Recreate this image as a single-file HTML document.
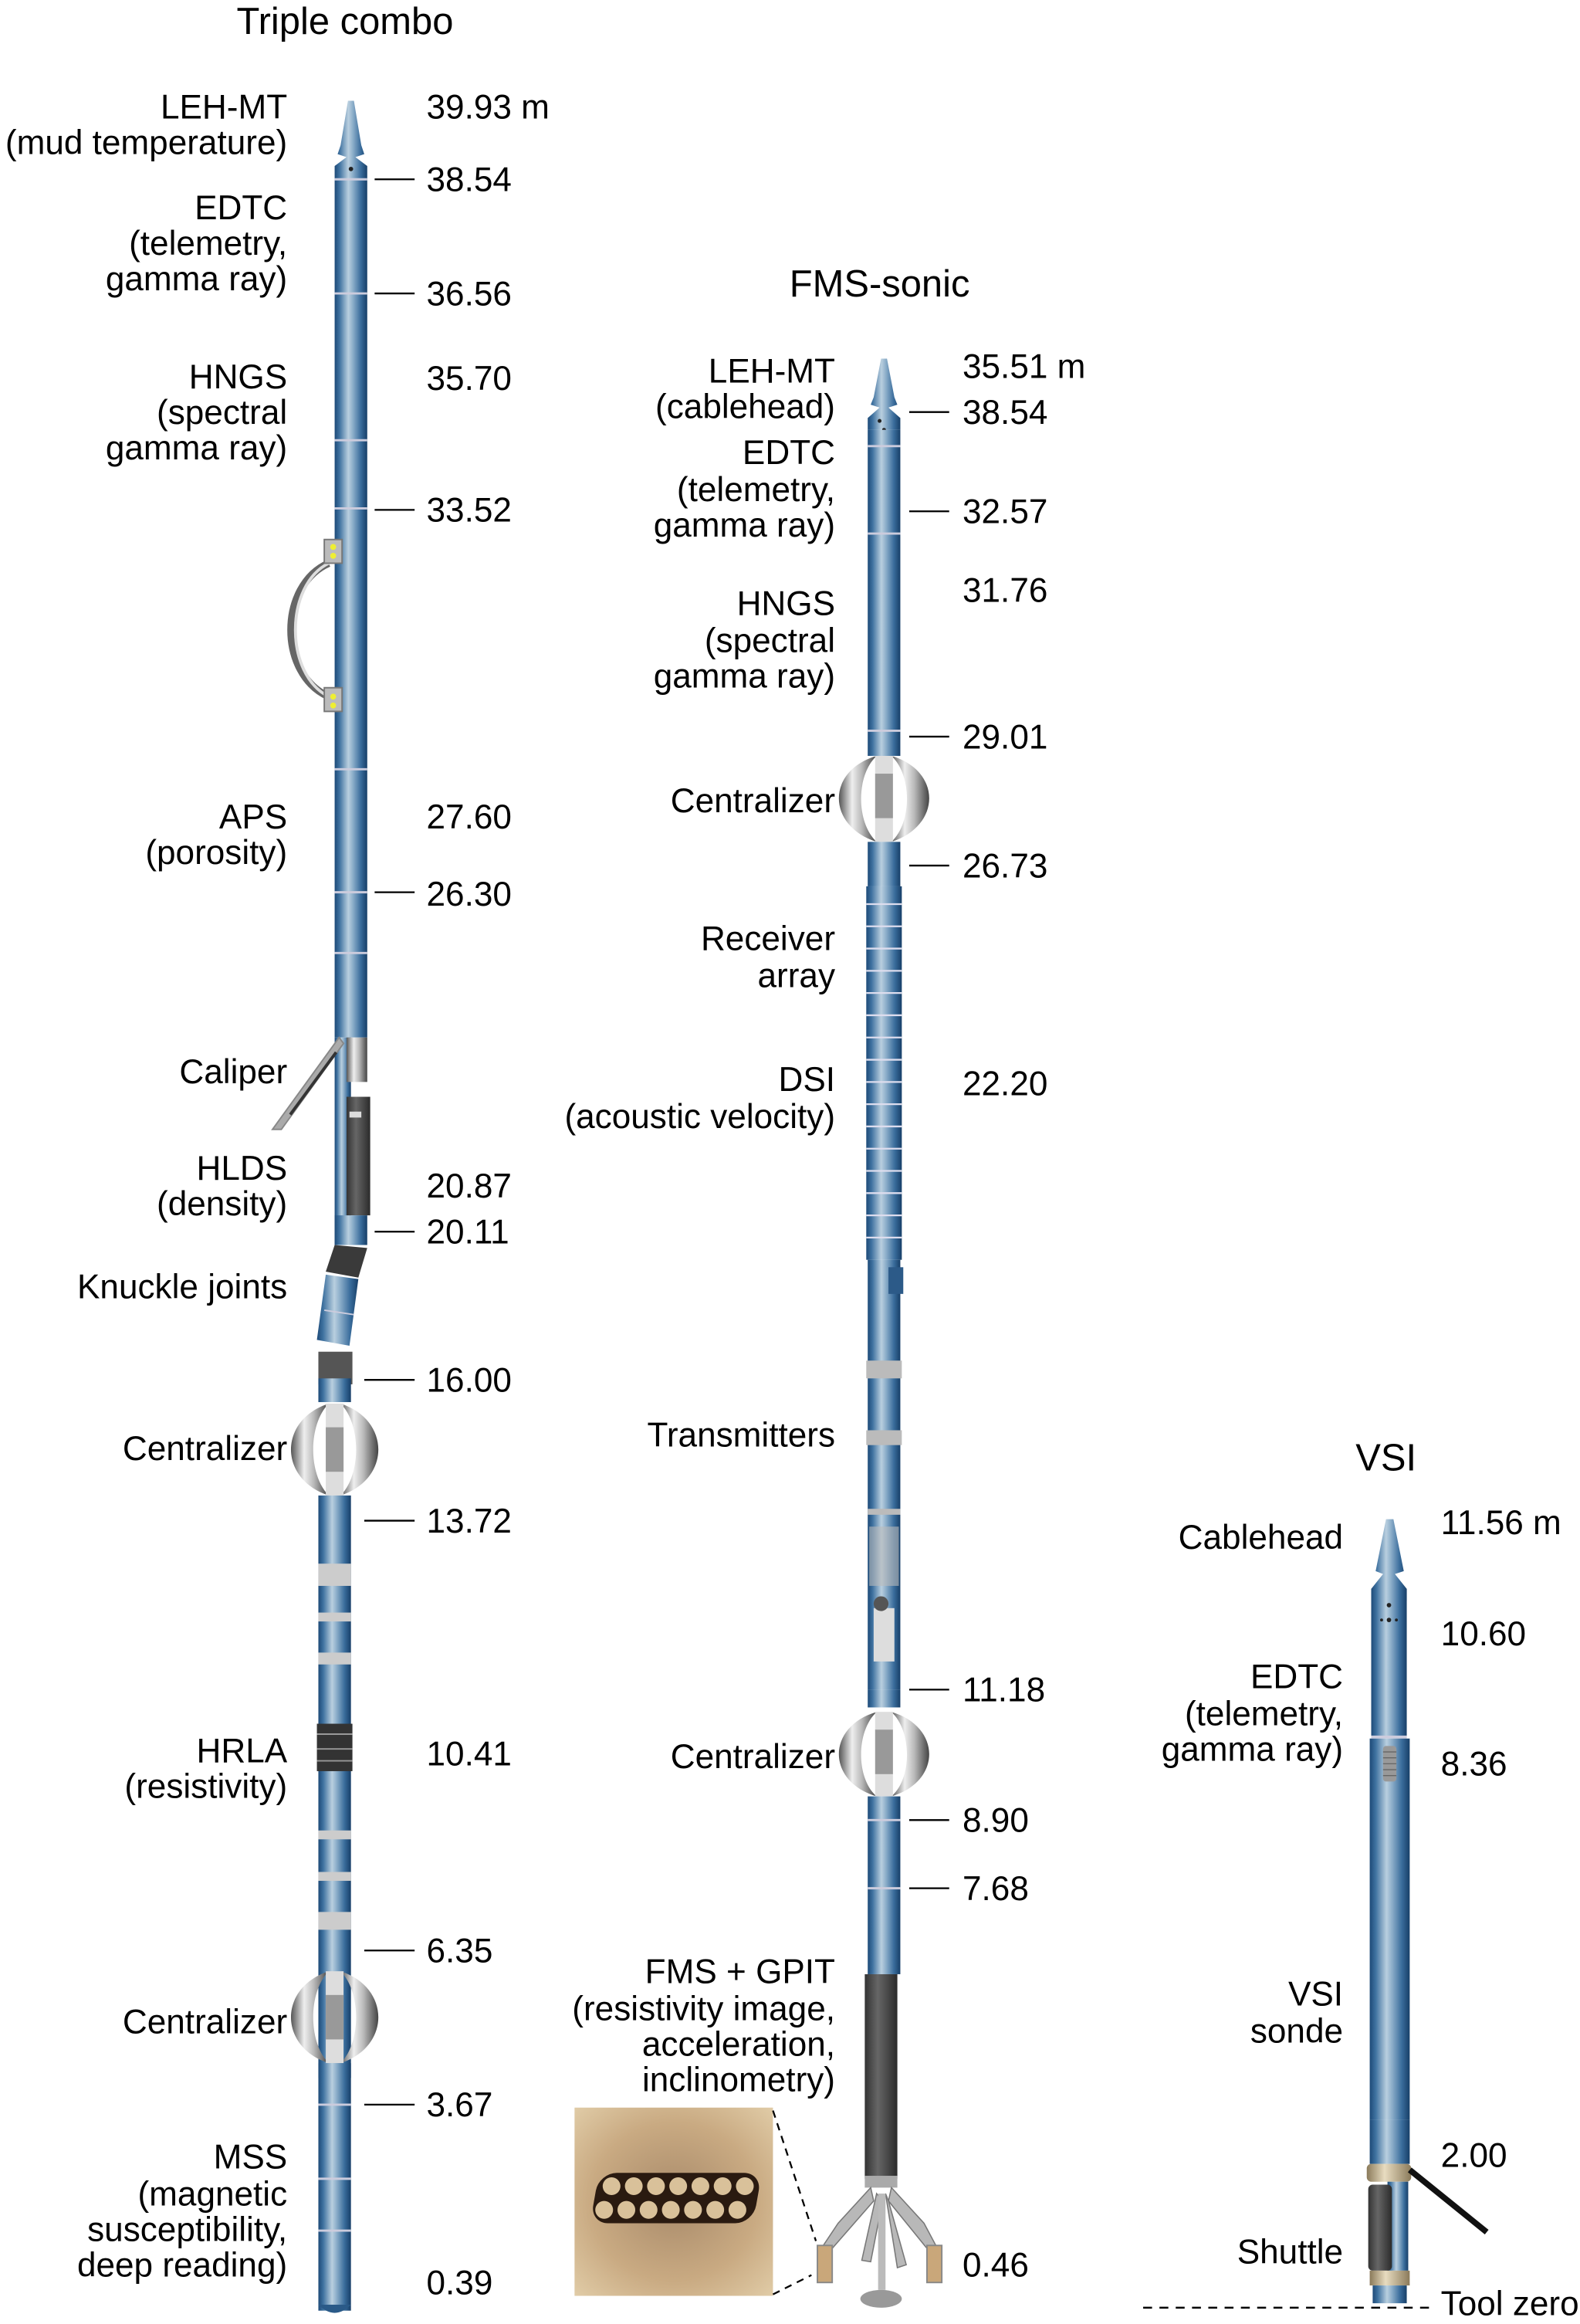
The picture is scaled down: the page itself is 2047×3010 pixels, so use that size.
<!DOCTYPE html>
<html><head><meta charset="utf-8"><style>
html,body{margin:0;padding:0;background:#fff;}
svg{display:block;}
text{font-family:"Liberation Sans",Arial,sans-serif;font-size:23px;fill:#000;}
.r{text-anchor:end;}
</style></head><body>
<svg width="2047" height="3010" viewBox="0 0 1067 1568" preserveAspectRatio="none" xmlns="http://www.w3.org/2000/svg">
<defs>
<linearGradient id="b" x1="0" x2="1" y1="0" y2="0">
<stop offset="0" stop-color="#1d4a78"/><stop offset="0.15" stop-color="#3f72a0"/><stop offset="0.42" stop-color="#b9cfdf"/><stop offset="0.55" stop-color="#8fb0cb"/><stop offset="0.8" stop-color="#3a6d9c"/><stop offset="1" stop-color="#173f68"/>
</linearGradient>
<linearGradient id="s" x1="0" x2="1" y1="0" y2="0">
<stop offset="0" stop-color="#555"/><stop offset="0.35" stop-color="#eee"/><stop offset="0.6" stop-color="#bbb"/><stop offset="1" stop-color="#444"/>
</linearGradient>
<linearGradient id="g" x1="0" x2="1" y1="0" y2="0">
<stop offset="0" stop-color="#333"/><stop offset="0.4" stop-color="#666"/><stop offset="1" stop-color="#2b2b2b"/>
</linearGradient>
<linearGradient id="t" x1="0" x2="1" y1="0" y2="0">
<stop offset="0" stop-color="#8a7a5a"/><stop offset="0.4" stop-color="#e8dcc0"/><stop offset="1" stop-color="#8a7a5a"/>
</linearGradient>
<radialGradient id="ph" cx="0.5" cy="0.5" r="0.7">
<stop offset="0" stop-color="#a88a6a"/><stop offset="0.6" stop-color="#c9aa82"/><stop offset="1" stop-color="#e0cba6"/>
</radialGradient>
</defs>

<!-- ============ TRIPLE COMBO ============ -->
<text x="233" y="23" style="font-size:25.5px" text-anchor="middle">Triple combo</text>
<polygon points="235,68 239,68 244,98 246,104 240,106 248,112 248,120 226,120 226,112 234,106 228,104 230,98" fill="url(#b)"/>
<circle cx="237" cy="114" r="1.5" fill="#222"/>
<rect x="226" y="120" width="22" height="580" fill="url(#b)"/>
<g stroke="#ccd" stroke-width="1.5">
<line x1="226" y1="121" x2="248" y2="121"/><line x1="226" y1="198" x2="248" y2="198"/><line x1="226" y1="297" x2="248" y2="297"/><line x1="226" y1="343" x2="248" y2="343"/><line x1="226" y1="519" x2="248" y2="519"/><line x1="226" y1="602" x2="248" y2="602"/><line x1="226" y1="643" x2="248" y2="643"/>
</g>
<path d="M222,380 C188,395 188,455 222,470" fill="none" stroke="#666" stroke-width="5"/>
<path d="M222,380 C192,395 192,455 222,470" fill="none" stroke="#ddd" stroke-width="2"/>
<rect x="219" y="364" width="12" height="16" fill="#bbb" stroke="#777"/><circle cx="225" cy="369" r="2" fill="#ee3"/><circle cx="225" cy="375" r="2" fill="#ee3"/>
<rect x="219" y="464" width="12" height="16" fill="#bbb" stroke="#777"/><circle cx="225" cy="470" r="2" fill="#ee3"/><circle cx="225" cy="476" r="2" fill="#ee3"/>
<rect x="226" y="700" width="11" height="140" fill="url(#b)"/>
<rect x="234" y="700" width="14" height="30" fill="url(#s)"/>
<rect x="234" y="740" width="16" height="80" fill="url(#g)"/>
<rect x="236" y="750" width="8" height="4" fill="#ddd"/>
<polygon points="229,700 232,704 190,762 184,762" fill="#aaa" stroke="#888"/>
<line x1="227" y1="710" x2="196" y2="752" stroke="#333" stroke-width="2"/>
<rect x="226" y="820" width="22" height="20" fill="url(#b)"/>
<polygon points="226,840 248,842 242,862 220,858" fill="#3a3a3a"/>
<polygon points="220,860 242,863 236,908 214,904" fill="url(#b)"/>
<line x1="219" y1="884" x2="239" y2="887" stroke="#ccd"/>
<rect x="215" y="912" width="23" height="22" fill="#555"/>
<rect x="215" y="930" width="22" height="16" fill="url(#b)"/>
<g>
<path d="M222,947 C188,958 188,998 222,1009 C208,995 208,961 222,947Z" fill="url(#s)"/>
<path d="M230,947 C264,958 264,998 230,1009 C244,995 244,961 230,947Z" fill="url(#s)"/>
<rect x="220" y="947" width="12" height="62" fill="#ddd"/><rect x="220" y="963" width="12" height="30" fill="#999"/>
</g>
<rect x="215" y="1009" width="22" height="550" fill="url(#b)"/>
<path d="M215,1555 Q226,1566 237,1555 Z" fill="#2a5a88"/>
<g fill="#ccc">
<rect x="215" y="1055" width="22" height="15"/><rect x="215" y="1088" width="22" height="6"/><rect x="215" y="1115" width="22" height="8"/>
<rect x="215" y="1235" width="22" height="6"/><rect x="215" y="1263" width="22" height="6"/><rect x="215" y="1290" width="22" height="12"/>
</g>
<rect x="214" y="1163" width="24" height="32" fill="#333"/>
<g stroke="#999" stroke-width="1"><line x1="214" y1="1170" x2="238" y2="1170"/><line x1="214" y1="1180" x2="238" y2="1180"/><line x1="214" y1="1188" x2="238" y2="1188"/></g>
<g>
<path d="M222,1330 C188,1341 188,1381 222,1392 C208,1378 208,1344 222,1330Z" fill="url(#s)"/>
<path d="M230,1330 C264,1341 264,1381 230,1392 C244,1378 244,1344 230,1330Z" fill="url(#s)"/>
<rect x="220" y="1330" width="12" height="62" fill="#ddd"/><rect x="220" y="1346" width="12" height="30" fill="#999"/>
</g>
<rect x="215" y="1392" width="22" height="10" fill="url(#b)"/>
<g stroke="#ccd" stroke-width="1.5"><line x1="215" y1="1420" x2="237" y2="1420"/><line x1="215" y1="1470" x2="237" y2="1470"/><line x1="215" y1="1505" x2="237" y2="1505"/></g>

<g stroke="#000" stroke-width="1.2">
<line x1="253" y1="121" x2="280" y2="121"/><line x1="253" y1="198" x2="280" y2="198"/><line x1="253" y1="344" x2="280" y2="344"/><line x1="253" y1="602" x2="280" y2="602"/><line x1="253" y1="831" x2="280" y2="831"/>
<line x1="246" y1="931" x2="280" y2="931"/><line x1="246" y1="1026" x2="280" y2="1026"/><line x1="246" y1="1316" x2="280" y2="1316"/><line x1="246" y1="1420" x2="280" y2="1420"/>
</g>
<text class="r" x="194" y="80">LEH-MT</text><text class="r" x="194" y="104">(mud temperature)</text>
<text class="r" x="194" y="148">EDTC</text><text class="r" x="194" y="172">(telemetry,</text><text class="r" x="194" y="196">gamma ray)</text>
<text class="r" x="194" y="262">HNGS</text><text class="r" x="194" y="286">(spectral</text><text class="r" x="194" y="310">gamma ray)</text>
<text class="r" x="194" y="559">APS</text><text class="r" x="194" y="583">(porosity)</text>
<text class="r" x="194" y="731">Caliper</text>
<text class="r" x="194" y="796">HLDS</text><text class="r" x="194" y="820">(density)</text>
<text class="r" x="194" y="876">Knuckle joints</text>
<text class="r" x="194" y="985">Centralizer</text>
<text class="r" x="194" y="1189">HRLA</text><text class="r" x="194" y="1213">(resistivity)</text>
<text class="r" x="194" y="1372">Centralizer</text>
<text class="r" x="194" y="1463">MSS</text><text class="r" x="194" y="1488">(magnetic</text><text class="r" x="194" y="1512">susceptibility,</text><text class="r" x="194" y="1536">deep reading)</text>
<text x="288" y="80">39.93 m</text><text x="288" y="129">38.54</text><text x="288" y="206">36.56</text><text x="288" y="263">35.70</text><text x="288" y="352">33.52</text>
<text x="288" y="559">27.60</text><text x="288" y="611">26.30</text><text x="288" y="808">20.87</text><text x="288" y="839">20.11</text><text x="288" y="939">16.00</text>
<text x="288" y="1034">13.72</text><text x="288" y="1191">10.41</text><text x="288" y="1324">6.35</text><text x="288" y="1428">3.67</text><text x="288" y="1548">0.39</text>

<!-- ============ FMS-SONIC ============ -->
<text x="594" y="200" style="font-size:25.5px" text-anchor="middle">FMS-sonic</text>
<polygon points="595,242 599,242 604,268 606,273 600,275 608,282 608,290 586,290 586,282 594,275 588,273 590,268" fill="url(#b)"/>
<circle cx="594" cy="284" r="1.3" fill="#222"/><circle cx="597" cy="290" r="1.3" fill="#222"/>
<rect x="586" y="290" width="22" height="220" fill="url(#b)"/>
<g stroke="#ccd" stroke-width="1.5"><line x1="586" y1="301" x2="608" y2="301"/><line x1="586" y1="360" x2="608" y2="360"/><line x1="586" y1="493" x2="608" y2="493"/></g>
<g>
<path d="M592,510 C558,520 558,557 592,568 C578,555 578,523 592,510Z" fill="url(#s)"/>
<path d="M602,510 C636,520 636,557 602,568 C616,555 616,523 602,510Z" fill="url(#s)"/>
<rect x="591" y="510" width="12" height="58" fill="#ddd"/><rect x="591" y="522" width="12" height="30" fill="#999"/>
</g>
<rect x="586" y="568" width="22" height="30" fill="url(#b)"/>
<rect x="585" y="598" width="24" height="252" fill="url(#b)"/>
<g stroke="#dde" stroke-width="1.2">
<line x1="585" y1="610" x2="609" y2="610"/><line x1="585" y1="625" x2="609" y2="625"/><line x1="585" y1="640" x2="609" y2="640"/><line x1="585" y1="655" x2="609" y2="655"/><line x1="585" y1="670" x2="609" y2="670"/><line x1="585" y1="685" x2="609" y2="685"/><line x1="585" y1="700" x2="609" y2="700"/><line x1="585" y1="715" x2="609" y2="715"/><line x1="585" y1="730" x2="609" y2="730"/><line x1="585" y1="745" x2="609" y2="745"/><line x1="585" y1="760" x2="609" y2="760"/><line x1="585" y1="775" x2="609" y2="775"/><line x1="585" y1="790" x2="609" y2="790"/><line x1="585" y1="805" x2="609" y2="805"/><line x1="585" y1="820" x2="609" y2="820"/><line x1="585" y1="835" x2="609" y2="835"/>
</g>
<rect x="586" y="850" width="22" height="290" fill="url(#b)"/>
<rect x="600" y="855" width="10" height="18" fill="#2c5a88"/>
<g fill="#bbb"><rect x="585" y="918" width="24" height="12"/><rect x="585" y="965" width="24" height="10"/><rect x="586" y="1018" width="22" height="4"/><rect x="587" y="1030" width="20" height="40" opacity="0.6"/></g>
<rect x="590" y="1085" width="14" height="36" fill="#ddd"/><circle cx="595" cy="1082" r="5" fill="#555"/>
<g>
<path d="M592,1155 C558,1165 558,1202 592,1212 C578,1200 578,1168 592,1155Z" fill="url(#s)"/>
<path d="M602,1155 C636,1165 636,1202 602,1212 C616,1200 616,1168 602,1155Z" fill="url(#s)"/>
<rect x="591" y="1155" width="12" height="57" fill="#ddd"/><rect x="591" y="1167" width="12" height="30" fill="#999"/>
</g>
<rect x="586" y="1140" width="22" height="12" fill="url(#b)"/>
<rect x="586" y="1212" width="22" height="120" fill="url(#b)"/>
<g stroke="#ccd" stroke-width="1.5"><line x1="586" y1="1228" x2="608" y2="1228"/><line x1="586" y1="1274" x2="608" y2="1274"/></g>
<rect x="584" y="1332" width="22" height="138" fill="url(#g)"/>
<rect x="584" y="1468" width="22" height="8" fill="#aaa"/>
<g fill="#b8b8b8" stroke="#777" stroke-width="0.8">
<polygon points="588,1476 566,1500 556,1515 562,1517 590,1485"/>
<polygon points="602,1476 624,1500 632,1515 626,1517 600,1485"/>
<polygon points="592,1480 582,1525 588,1526 596,1485"/>
<polygon points="598,1480 606,1530 612,1528 600,1485"/>
</g>
<rect x="552" y="1515" width="10" height="25" fill="#c9a77a" stroke="#888"/>
<rect x="626" y="1515" width="10" height="25" fill="#c9a77a" stroke="#888"/>
<rect x="593" y="1480" width="5" height="65" fill="#bbb"/>
<ellipse cx="595" cy="1551" rx="14" ry="6" fill="#999"/>
<rect x="388" y="1422" width="134" height="127" fill="url(#ph)"/>
<rect x="405" y="1466" width="110" height="34" rx="12" fill="#2a1a10" transform="skewX(-10) translate(258,0)"/>
<g fill="#d9c19a">
<circle cx="413" cy="1475" r="6"/><circle cx="428" cy="1475" r="6"/><circle cx="443" cy="1475" r="6"/><circle cx="458" cy="1475" r="6"/><circle cx="473" cy="1475" r="6"/><circle cx="488" cy="1475" r="6"/><circle cx="503" cy="1475" r="6"/>
<circle cx="408" cy="1491" r="6"/><circle cx="423" cy="1491" r="6"/><circle cx="438" cy="1491" r="6"/><circle cx="453" cy="1491" r="6"/><circle cx="468" cy="1491" r="6"/><circle cx="483" cy="1491" r="6"/><circle cx="498" cy="1491" r="6"/>
</g>
<g stroke="#000" stroke-width="1.2" stroke-dasharray="5,4" fill="none"><line x1="522" y1="1424" x2="551" y2="1512"/><line x1="522" y1="1548" x2="548" y2="1535"/></g>

<g stroke="#000" stroke-width="1.2">
<line x1="614" y1="278" x2="641" y2="278"/><line x1="614" y1="345" x2="641" y2="345"/><line x1="614" y1="497" x2="641" y2="497"/><line x1="614" y1="584" x2="641" y2="584"/><line x1="614" y1="1140" x2="641" y2="1140"/><line x1="614" y1="1228" x2="641" y2="1228"/><line x1="614" y1="1274" x2="641" y2="1274"/>
</g>
<text class="r" x="564" y="258">LEH-MT</text><text class="r" x="564" y="282">(cablehead)</text>
<text class="r" x="564" y="313">EDTC</text><text class="r" x="564" y="338">(telemetry,</text><text class="r" x="564" y="362">gamma ray)</text>
<text class="r" x="564" y="415">HNGS</text><text class="r" x="564" y="440">(spectral</text><text class="r" x="564" y="464">gamma ray)</text>
<text class="r" x="564" y="548">Centralizer</text>
<text class="r" x="564" y="641">Receiver</text><text class="r" x="564" y="666">array</text>
<text class="r" x="564" y="736">DSI</text><text class="r" x="564" y="761">(acoustic velocity)</text>
<text class="r" x="564" y="976">Transmitters</text>
<text class="r" x="564" y="1193">Centralizer</text>
<text class="r" x="564" y="1338">FMS + GPIT</text><text class="r" x="564" y="1363">(resistivity image,</text><text class="r" x="564" y="1387">acceleration,</text><text class="r" x="564" y="1411">inclinometry)</text>
<text x="650" y="255">35.51 m</text><text x="650" y="286">38.54</text><text x="650" y="353">32.57</text><text x="650" y="406">31.76</text><text x="650" y="505">29.01</text><text x="650" y="592">26.73</text><text x="650" y="739">22.20</text><text x="650" y="1148">11.18</text><text x="650" y="1236">8.90</text><text x="650" y="1282">7.68</text><text x="650" y="1536">0.46</text>

<!-- ============ VSI ============ -->
<text x="936" y="992" style="font-size:25.5px" text-anchor="middle">VSI</text>
<polygon points="936,1025 941,1025 947,1055 948,1060 942,1062 950,1072 950,1080 926,1080 926,1072 934,1062 929,1060 930,1055" fill="url(#b)"/>
<rect x="926" y="1072" width="24" height="100" fill="url(#b)"/>
<circle cx="938" cy="1083" r="1.5" fill="#222"/><circle cx="938" cy="1093" r="1.5" fill="#222"/><circle cx="933" cy="1093" r="1" fill="#222"/><circle cx="943" cy="1093" r="1" fill="#222"/>
<line x1="926" y1="1172" x2="950" y2="1172" stroke="#ccd" stroke-width="2"/>
<rect x="925" y="1173" width="27" height="257" fill="url(#b)"/>
<rect x="934" y="1178" width="9" height="24" rx="2" fill="#999"/>
<g stroke="#666" stroke-width="0.7"><line x1="934" y1="1182" x2="943" y2="1182"/><line x1="934" y1="1186" x2="943" y2="1186"/><line x1="934" y1="1190" x2="943" y2="1190"/><line x1="934" y1="1194" x2="943" y2="1194"/><line x1="934" y1="1198" x2="943" y2="1198"/></g>
<rect x="925" y="1430" width="27" height="30" fill="url(#b)"/>
<rect x="923" y="1460" width="30" height="12" rx="3" fill="url(#t)"/>
<line x1="952" y1="1464" x2="1004" y2="1506" stroke="#111" stroke-width="4"/>
<rect x="937" y="1472" width="14" height="60" fill="url(#b)"/>
<rect x="924" y="1474" width="16" height="58" rx="3" fill="url(#g)"/>
<rect x="925" y="1532" width="27" height="10" fill="url(#t)"/>
<rect x="927" y="1542" width="23" height="12" fill="url(#b)"/>
<line x1="772" y1="1557" x2="968" y2="1557" stroke="#000" stroke-width="1.3" stroke-dasharray="6,5"/>
<text class="r" x="907" y="1045">Cablehead</text>
<text class="r" x="907" y="1139">EDTC</text><text class="r" x="907" y="1164">(telemetry,</text><text class="r" x="907" y="1188">gamma ray)</text>
<text class="r" x="907" y="1353">VSI</text><text class="r" x="907" y="1378">sonde</text>
<text class="r" x="907" y="1527">Shuttle</text>
<text x="973" y="1035">11.56 m</text><text x="973" y="1110">10.60</text><text x="973" y="1198">8.36</text><text x="973" y="1462">2.00</text>
<text x="973" y="1562">Tool zero</text>
</svg>
</body></html>
